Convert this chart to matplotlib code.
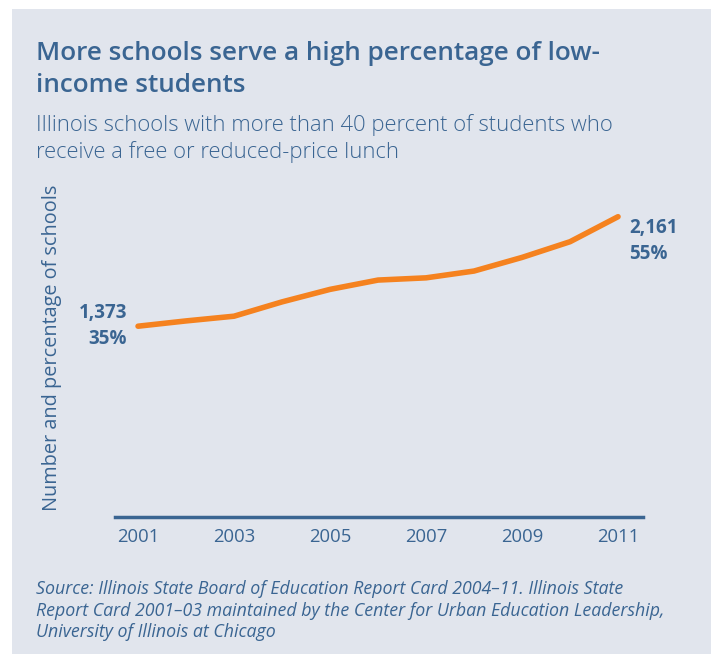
import matplotlib
matplotlib.use("Agg")
import matplotlib.pyplot as plt

# Illinois schools with >40% of students receiving free/reduced-price lunch
years = [2001, 2002, 2003, 2004, 2005, 2006, 2007, 2008, 2009, 2010, 2011]
schools = [1373, 1411, 1445, 1548, 1638, 1705, 1721, 1770, 1868, 1981, 2161]
share_first = "35%"
share_last = "55%"
tick_years = [2001, 2003, 2005, 2007, 2009, 2011]

BG = "#E1E5ED"
BLUE = "#3A6592"
ORANGE = "#F5821F"
FONT = ["Open Sans", "DejaVu Sans"]

W, H = 711, 654
fig = plt.figure(figsize=(W / 100, H / 100), dpi=100)
fig.patch.set_facecolor("white")

# light panel behind everything
panel = plt.Rectangle((12 / W, 0), 1 - 12 / W, 1 - 9 / H, transform=fig.transFigure,
                      facecolor=BG, edgecolor="none", zorder=-10)
fig.patches.append(panel)

def fx(px):
    return px / W

def fy(py):
    return 1 - py / H

# title and subtitle (y is the baseline of the last line)
fig.text(fx(36), fy(92), "More schools serve a high percentage of low-\nincome students",
         fontsize=18.8, color=BLUE, family=FONT, weight="semibold",
         va="baseline", ha="left", linespacing=1.38)
fig.text(fx(36), fy(158), "Illinois schools with more than 40 percent of students who\nreceive a free or reduced-price lunch",
         fontsize=15.8, color=BLUE, family=FONT, weight="light",
         va="baseline", ha="left", linespacing=1.3)

# plotting area
left, right, bottom = 115, 643, 517
ymax = 2400
px_per_unit = 300.3 / 2161
top = bottom - ymax * px_per_unit
ax = fig.add_axes([fx(left), fy(bottom), (right - left) / W, (bottom - top) / H])
ax.set_facecolor("none")
ax.plot(years, schools, color=ORANGE, lw=4, solid_capstyle="round", solid_joinstyle="round")
ax.set_xlim(2000.52, 2011.52)
ax.set_ylim(0, ymax)

for s in ["top", "right", "left"]:
    ax.spines[s].set_visible(False)
ax.spines["bottom"].set_color(BLUE)
ax.spines["bottom"].set_linewidth(2.5)
ax.set_yticks([])
ax.set_xticks(tick_years)
ax.set_xticklabels([str(y) for y in tick_years], family=FONT, fontsize=13.3, color=BLUE)
ax.tick_params(axis="x", length=0, pad=8)

fig.text(fx(52), fy(348), "Number and percentage of schools", rotation=90,
         fontsize=14.3, color=BLUE, family=FONT, ha="center", va="center")

# end-point labels
ax.annotate(f"{schools[0]:,}\n{share_first}", xy=(years[0], schools[0]),
            xytext=(-11, 0), textcoords="offset pixels", ha="right", va="center",
            fontsize=13.5, weight="bold", color=BLUE, family=FONT, linespacing=1.38)
ax.annotate(f"{schools[-1]:,}\n{share_last}", xy=(years[-1], schools[-1]),
            xytext=(11, -24), textcoords="offset pixels", ha="left", va="center",
            fontsize=13.5, weight="bold", color=BLUE, family=FONT, linespacing=1.38)

# source note
fig.text(fx(36), fy(637),
         "Source: Illinois State Board of Education Report Card 2004\u201311. Illinois State\n"
         "Report Card 2001\u201303 maintained by the Center for Urban Education Leadership,\n"
         "University of Illinois at Chicago",
         fontsize=12.8, style="italic", color=BLUE, family=FONT, va="baseline", ha="left",
         linespacing=1.25)

fig.savefig("out.png", dpi=100, facecolor=fig.get_facecolor())
